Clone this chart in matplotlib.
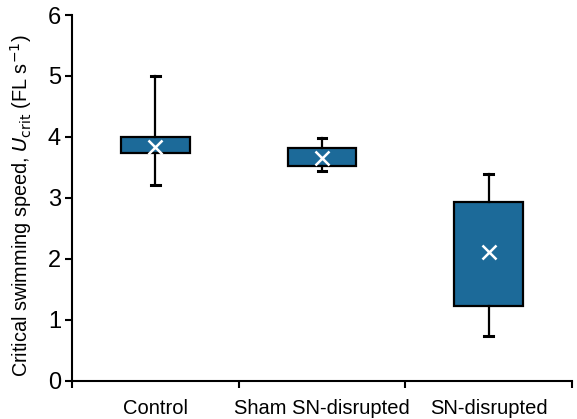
import matplotlib.pyplot as plt

plt.rcParams['font.family'] = ['Liberation Sans', 'DejaVu Sans']

groups = ["Control", "Sham SN-disrupted", "SN-disrupted"]
whislo = [3.22, 3.44, 0.74]
q1 = [3.73, 3.53, 1.23]
q3 = [4.00, 3.82, 2.94]
whishi = [5.00, 3.98, 3.40]
means = [3.83, 3.65, 2.12]

stats = []
for i, g in enumerate(groups):
    stats.append(dict(label=g, whislo=whislo[i], q1=q1[i], med=means[i],
                      q3=q3[i], whishi=whishi[i], mean=means[i], fliers=[]))

fig = plt.figure(figsize=(5.77, 4.19), dpi=100)
ax = fig.add_axes([0.1248, 0.0907, 0.8665, 0.8735])

pos = [0.5, 1.5, 2.5]
ax.bxp(stats, positions=pos, widths=0.41, patch_artist=True,
       showmeans=True, showcaps=True,
       boxprops=dict(facecolor='#1c6a99', edgecolor='black', linewidth=1.6),
       whiskerprops=dict(color='black', linewidth=1.6),
       capprops=dict(color='black', linewidth=2.2),
       medianprops=dict(linewidth=0, color='none'),
       meanprops=dict(marker='x', markeredgecolor='white', markersize=10,
                      markeredgewidth=1.8),
       capwidths=0.05, zorder=3)

ax.set_xlim(0, 3)
ax.set_ylim(0, 6)
ax.set_xticks([0, 1, 2, 3])
ax.set_xticklabels([])
ax.set_xticks(pos, minor=True)
ax.set_xticklabels(groups, minor=True, fontsize=14.5)
ax.tick_params(axis='x', which='minor', length=0, pad=13)
ax.tick_params(axis='x', which='major', direction='out', length=5, width=1.5)
ax.set_yticks(range(7))
ax.tick_params(axis='y', direction='out', length=5, width=1.5, labelsize=17, pad=3)

for s in ['top', 'right']:
    ax.spines[s].set_visible(False)
for s in ['left', 'bottom']:
    ax.spines[s].set_linewidth(1.5)

ax.set_ylabel(r"Critical swimming speed, $\mathit{U}_{\mathrm{crit}}$ (FL s$^{-1}$)",
              fontsize=14.3)
ax.yaxis.set_label_coords(-0.076, 0.48)

fig.savefig("out.png", dpi=100)
